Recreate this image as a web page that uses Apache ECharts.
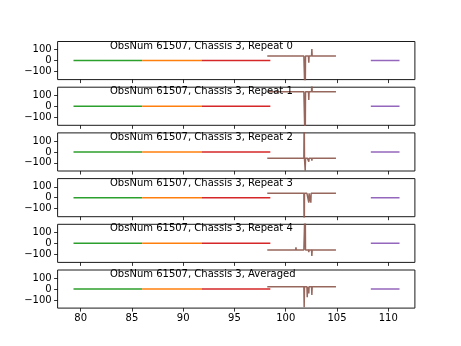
<!DOCTYPE html>
<html>
<head>
<meta charset="utf-8">
<script src="https://cdn.jsdelivr.net/npm/echarts@6/dist/echarts.min.js"></script>
<style>
  html, body { margin: 0; padding: 0; background: #fff; }
  #chart { width: 461px; height: 346px; }
</style>
</head>
<body>
<div id="chart"></div>
<script>
// Panel titles, one per stacked subplot
const panelTitles = [
  'ObsNum 61507, Chassis 3, Repeat 0',
  'ObsNum 61507, Chassis 3, Repeat 1',
  'ObsNum 61507, Chassis 3, Repeat 2',
  'ObsNum 61507, Chassis 3, Repeat 3',
  'ObsNum 61507, Chassis 3, Repeat 4',
  'ObsNum 61507, Chassis 3, Averaged'
];

const xTicks = [80, 85, 90, 95, 100, 105, 110];
const yTicks = [-100, 0, 100];

// Band 1 (green)
const band1X = [79.3, 80.3, 80.4, 80.5, 86.0];
const band1Y = [
  [0, 0, 10, 0, 0],
  [0, 0, 8, 0, 0],
  [0, 0, 6, 0, 0],
  [0, 0, 5, 0, 0],
  [0, 0, 8, 0, 0],
  [0, 0, -5, 0, 0]
];
// Band 2 (orange)
const band2X = [86.0, 91.8];
const band2Y = [[0, 0], [0, 0], [0, 0], [0, 0], [0, 0], [0, 0]];
// Band 3 (red)
const band3X = [91.8, 98.5];
const band3Y = [[0, 0], [0, 0], [0, 0], [0, 0], [0, 0], [0, 0]];
// Band 4 (brown), with narrow spikes around 101-102.6
const band4X = [98.2,
  100.97, 101.0, 101.03,
  101.77, 101.8, 101.83,
  101.87, 101.9, 101.93,
  102.07, 102.1, 102.13,
  102.22, 102.25, 102.28,
  102.42, 102.45, 102.48,
  102.52, 102.55, 102.58,
  104.30, 104.33, 104.36,
  104.9];
const band4Y = [
  [42, 42, 48, 42, 42, 42, 42, 42, -400, 42, 42, 42, 42, 42, -20, 42, 42, 42, 42, 42, 105, 42, 42, 36, 42, 42],
  [134, 134, 138, 134, 134, 134, 134, 134, -400, 134, 134, 134, 134, 134, 57, 134, 134, 134, 134, 134, 250, 134, 134, 124, 134, 134],
  [-59, -59, -50, -59, -59, 400, -59, -59, -172, -59, -59, -70, -59, -59, -90, -59, -59, -59, -59, -59, -80, -59, -59, -64, -59, -59],
  [40, 40, 46, 40, 40, -400, 40, 40, 40, 40, 40, 40, 40, 40, -46, 40, 40, -46, 40, 40, 40, 40, 40, 30, 40, 40],
  [-61, -61, -36, -61, -61, -61, -61, -61, 400, -61, -61, -66, -61, -61, -80, -61, -61, -61, -61, -61, -116, -61, -61, -68, -61, -61],
  [21, 21, 30, 21, 21, -168, 21, 21, 10, 21, 21, -76, 21, 21, -40, 21, 21, 21, 21, 21, -55, 21, 21, 16, 21, 21]
];
// Band 5 (purple)
const band5X = [108.3, 111.1];
const band5Y = [[0, 0], [0, 0], [0, 0], [0, 0], [0, 0], [0, 0]];

const bands = [
  { x: band1X, y: band1Y, color: '#2ca02c', opacity: 1 },
  { x: band2X, y: band2Y, color: '#ff7f0e', opacity: 1 },
  { x: band3X, y: band3Y, color: '#d62728', opacity: 1 },
  { x: band4X, y: band4Y, color: '#8c564b', opacity: 0.9 },
  { x: band5X, y: band5Y, color: '#9467bd', opacity: 1 }
];

const FONT = 'DejaVu Sans';
const left = 57.6, right = 46.1, panelH = 38.1;
const tops = [41.5, 87.2, 132.9, 178.6, 224.3, 270.0];

const grids = [], xAxes = [], yAxes = [], series = [], titles = [];
tops.forEach((top, i) => {
  const last = i === tops.length - 1;
  grids.push({
    left: left, right: right, top: top, height: panelH,
    show: true, borderColor: '#1a1a1a', borderWidth: 1, backgroundColor: 'transparent'
  });
  xAxes.push({
    type: 'value', gridIndex: i, min: 77.75, max: 112.6, position: 'bottom',
    axisLine: { show: false, onZero: false },
    axisTick: { show: true, length: 3.5, inside: false, customValues: xTicks,
                lineStyle: { color: '#000', width: 0.8 } },
    axisLabel: { show: last, customValues: xTicks, color: '#000', fontSize: 10,
                 fontFamily: FONT, margin: 5 },
    splitLine: { show: false }
  });
  yAxes.push({
    type: 'value', gridIndex: i, min: -175, max: 175, position: 'left',
    axisLine: { show: false, onZero: false },
    axisTick: { show: true, length: 3.5, inside: false, customValues: yTicks,
                lineStyle: { color: '#000', width: 0.8 } },
    axisLabel: { show: true, customValues: yTicks, color: '#000', fontSize: 10,
                 fontFamily: FONT, margin: 6,
                 formatter: v => (v < 0 ? '\u2212' + Math.abs(v) : String(v)) },
    splitLine: { show: false }
  });
  bands.forEach(b => {
    series.push({
      type: 'line', xAxisIndex: i, yAxisIndex: i,
      data: b.x.map((xv, k) => [xv, b.y[i][k]]),
      showSymbol: false, symbol: 'none', animation: false, clip: true,
      lineStyle: { color: b.color, width: 1.5, opacity: b.opacity }
    });
  });
  titles.push({
    text: panelTitles[i], left: 110, top: top - 0.5, padding: 0,
    textStyle: { fontSize: 10, fontFamily: FONT, fontWeight: 'normal', color: '#000' }
  });
});

const chart = echarts.init(document.getElementById('chart'), null, { renderer: 'canvas' });
chart.setOption({
  backgroundColor: '#fff',
  animation: false,
  title: titles,
  grid: grids,
  xAxis: xAxes,
  yAxis: yAxes,
  series: series
});
</script>
</body>
</html>
